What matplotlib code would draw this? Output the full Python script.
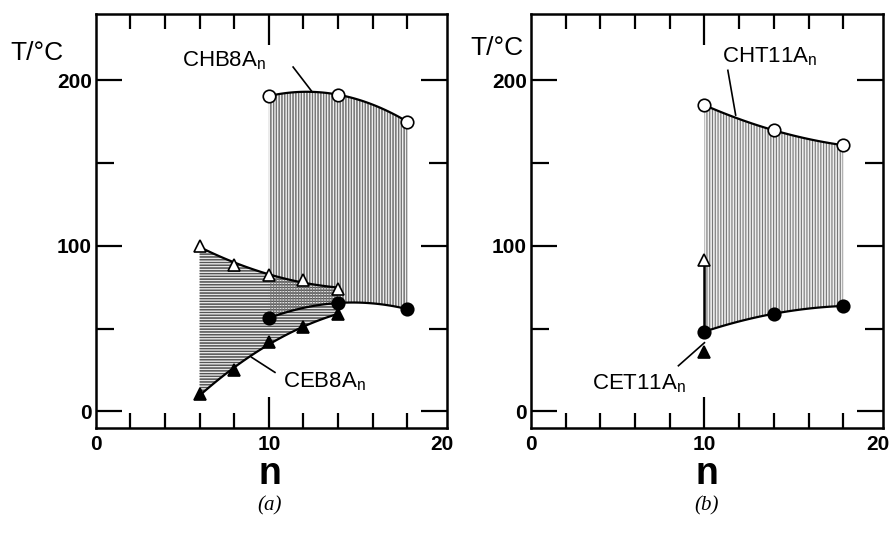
import numpy as np
import matplotlib
matplotlib.use("Agg")
import matplotlib.pyplot as plt

plt.rcParams['font.family'] = ['Liberation Sans', 'DejaVu Sans']
plt.rcParams['hatch.linewidth'] = 0.8

# panel (a): CHB8An / CEB8An
a_hi_n = [10, 14, 18]            # open circles (clearing)
a_hi_T = [190.5, 191.3, 175]
a_lo_n = [10, 14, 18]            # filled circles (melting)
a_lo_T = [56.4, 65.5, 61.8]
a_tri_open_n = [6, 8, 10, 12, 14]
a_tri_open_T = [100, 88.7, 82.4, 79.6, 74]
a_tri_fill_n = [6, 8, 10, 12, 14]
a_tri_fill_T = [10.3, 24.8, 42, 51, 58.8]

# panel (b): CHT11An / CET11An
b_hi_n = [10, 14, 18]
b_hi_T = [185, 169.8, 160.8]
b_lo_n = [10, 14, 18]
b_lo_T = [48.2, 59, 63.7]
b_tri_open_n = [10]
b_tri_open_T = [91.7]
b_tri_fill_n = [10]
b_tri_fill_T = [36.2]


def smooth(n, T):
    # quadratic curve through the points, for drawing only
    c = np.polyfit(n, T, 2)
    xs = np.linspace(min(n), max(n), 100)
    return xs, np.polyval(c, xs)


def style_axes(ax):
    ax.set_xlim(0, 20.3)
    ax.set_ylim(-10, 240)
    for s in ax.spines.values():
        s.set_linewidth(1.8)
    ax.set_xticks([0, 10, 20])
    ax.set_xticklabels(['0', '10', '20'])
    ax.set_xticks([2, 4, 6, 8, 12, 14, 16, 18], minor=True)
    ax.set_yticks([0, 100, 200])
    ax.set_yticks([50, 150], minor=True)
    ax.tick_params(axis='x', which='major', direction='in', length=22, width=1.6,
                   top=True, labelsize=15, pad=5)
    ax.tick_params(axis='x', which='minor', direction='in', length=11, width=1.6, top=True)
    ax.tick_params(axis='y', which='major', direction='in', length=19, width=1.6,
                   right=True, labelsize=15, pad=3)
    ax.tick_params(axis='y', which='minor', direction='in', length=13, width=1.6, right=True)
    for i in (0, 2):
        t = ax.xaxis.get_major_ticks()[i]
        t.tick1line.set_visible(False)
        t.tick2line.set_visible(False)
    for lab in ax.get_xticklabels() + ax.get_yticklabels():
        lab.set_fontweight('bold')


fig = plt.figure(figsize=(8.96, 5.49), dpi=100)
axa = fig.add_axes([0.107, 0.2204, 0.392, 0.754])
axb = fig.add_axes([0.5926, 0.2204, 0.393, 0.754])

mk = dict(markersize=9, markeredgecolor='black', markeredgewidth=1.2, linestyle='none', zorder=5)

# ---- panel (a)
xo, yo = smooth(a_tri_open_n, a_tri_open_T)
xf, yf = smooth(a_tri_fill_n, a_tri_fill_T)
xh, yh = smooth(a_hi_n, a_hi_T)
xl, yl = smooth(a_lo_n, a_lo_T)
axa.fill_between(xh, yl, yh, facecolor='#eeeeee', edgecolor='#777777', hatch='||||||', linewidth=0)
axa.fill_between(xo, yf, yo, facecolor='#e6e6e6', edgecolor='#555555', hatch='------',
                 linewidth=0, alpha=0.999, zorder=1)
axa.fill_between(xo, yf, yo, facecolor='none', edgecolor='#555555', hatch='------',
                 linewidth=0, zorder=2)
# redraw vertical hatching over the overlap so it shows crossed
axa.fill_between(xh, yl, yh, facecolor='none', edgecolor='#777777', hatch='||||||',
                 linewidth=0, zorder=2)
for x, y in [(xo, yo), (xf, yf), (xh, yh), (xl, yl)]:
    axa.plot(x, y, color='black', lw=1.6, zorder=4)
axa.plot(a_hi_n, a_hi_T, marker='o', markerfacecolor='white', **mk)
axa.plot(a_lo_n, a_lo_T, marker='o', markerfacecolor='black', **mk)
axa.plot(a_tri_open_n, a_tri_open_T, marker='^', markerfacecolor='white', **mk)
axa.plot(a_tri_fill_n, a_tri_fill_T, marker='^', markerfacecolor='black', **mk)
axa.text(5.0, 212, 'CHB8A$_\\mathregular{n}$', fontsize=16, va='center', ha='left')
axa.plot([11.4, 12.5], [208, 193], color='black', lw=1.2)
axa.text(10.8, 18, 'CEB8A$_\\mathregular{n}$', fontsize=16, va='center', ha='left')
axa.plot([9.0, 10.35], [32.7, 23.6], color='black', lw=1.2)
style_axes(axa)

# ---- panel (b)
xh, yh = smooth(b_hi_n, b_hi_T)
xl, yl = smooth(b_lo_n, b_lo_T)
axb.fill_between(xh, yl, yh, facecolor='#eeeeee', edgecolor='#777777', hatch='||||||', linewidth=0)
axb.plot(xh, yh, color='black', lw=1.6, zorder=4)
axb.plot(xl, yl, color='black', lw=1.6, zorder=4)
axb.plot([b_lo_n[0], b_tri_open_n[0]], [b_lo_T[0], b_tri_open_T[0]], color='black', lw=1.8, zorder=4)
axb.plot(b_hi_n, b_hi_T, marker='o', markerfacecolor='white', **mk)
axb.plot(b_lo_n, b_lo_T, marker='o', markerfacecolor='black', **mk)
axb.plot(b_tri_open_n, b_tri_open_T, marker='^', markerfacecolor='white', **mk)
axb.plot(b_tri_fill_n, b_tri_fill_T, marker='^', markerfacecolor='black', **mk)
axb.text(11.0, 214, 'CHT11A$_\\mathregular{n}$', fontsize=16, va='center', ha='left')
axb.plot([11.35, 11.8], [206, 179], color='black', lw=1.2)
axb.text(3.5, 17, 'CET11A$_\\mathregular{n}$', fontsize=16, va='center', ha='left')
axb.plot([8.5, 10.0], [27.6, 41.5], color='black', lw=1.2)
style_axes(axb)

# axis titles
fig.text(37 / 896, 1 - 53 / 549, 'T/°C', fontsize=19, ha='center', va='center')
fig.text(497 / 896, 1 - 48 / 549, 'T/°C', fontsize=19, ha='center', va='center')
for cx, tag in [(270 / 896, '(a)'), (707 / 896, '(b)')]:
    fig.text(cx, 1 - 474 / 549, 'n', fontsize=27, fontweight='bold', ha='center', va='center')
    fig.text(cx, 1 - 506 / 549, tag, fontsize=15, family='Liberation Serif', style='italic',
             ha='center', va='center')

fig.savefig('out.png', dpi=100)
